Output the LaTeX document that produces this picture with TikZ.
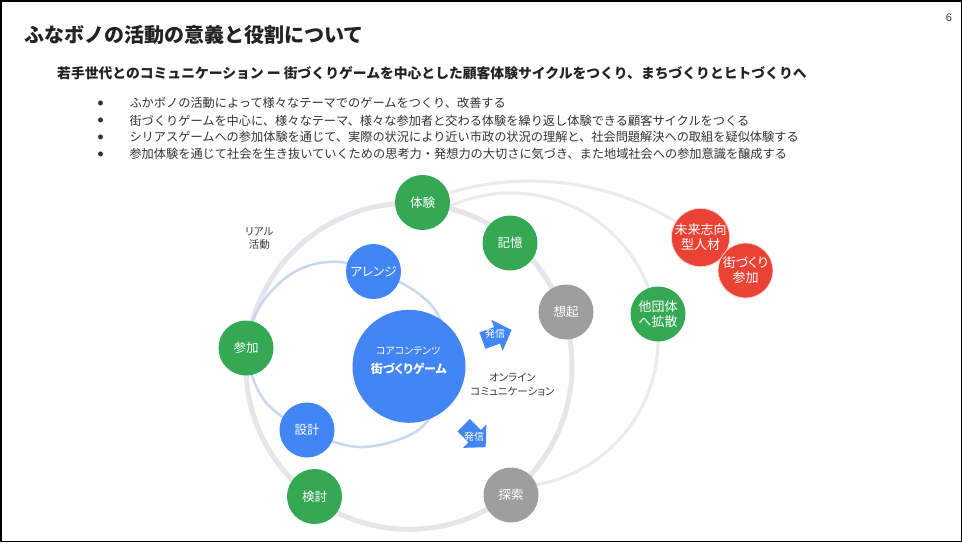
\documentclass[tikz,border=0pt]{standalone}
\usepackage{fontspec}
\setmainfont{Noto Sans CJK JP}
\newfontfamily\jpp{Noto Sans CJK JP}[RawFeature=+palt]
\newfontfamily\numfont{Liberation Sans}
\usetikzlibrary{calc,backgrounds}
\pgfdeclarelayer{paper}
\pgfsetlayers{paper,background,main}
\definecolor{ggreen}{HTML}{34A853}
\definecolor{gblue}{HTML}{4285F4}
\definecolor{ggray}{HTML}{9E9E9E}
\definecolor{gred}{HTML}{EA4335}
\definecolor{ringgray}{HTML}{E4E6EA}
\definecolor{arcgray}{HTML}{EBEBEB}
\definecolor{ringblue}{HTML}{C9D8F0}
\definecolor{txtdark}{HTML}{222222}
\definecolor{txtmid}{HTML}{333333}
\definecolor{lblgray}{HTML}{3A3A3A}
\tikzset{
  circnode/.style={circle, minimum size=55pt, inner sep=0pt, text=white, align=center, font=\jpp\fontsize{12.5}{14}\selectfont},
  twoline/.style={font=\jpp\fontsize{13}{15}\selectfont},
  gnode/.style={circnode, fill=ggreen},
  bnode/.style={circnode, fill=gblue},
  grnode/.style={circnode, fill=ggray},
  rnode/.style={circnode, twoline, fill=gred, draw=white!75!gred, line width=0.8pt},
  bigring/.style={draw=ringgray, line width=5pt},
  outarc/.style={draw=arcgray, line width=3pt},
  innerring/.style={draw=ringblue, line width=2.5pt},
  plaintext/.style={inner sep=0pt, anchor=west},
  bullettext/.style={plaintext, text=txtmid, font=\fontsize{12.2}{14}\selectfont},
  bulletdot/.style={inner sep=0pt, text=txtmid, font=\fontsize{5.5}{6}\selectfont},
  sidelabel/.style={inner sep=0pt, align=center, text=lblgray, font=\jpp\fontsize{10.5}{12.5}\selectfont},
  hasstext/.style={inner sep=0pt, text=white, font=\jpp\fontsize{10}{12}\selectfont},
  hasshinarrow/.pic={\fill[gblue] (-15.5,-8.75) -- (0,-8.75) -- (0,-16.5) -- (15.5,0) -- (0,16.5) -- (0,8.75) -- (-15.5,8.75) -- cycle;}
}
\begin{document}
\begin{tikzpicture}[x=1pt,y=1pt]
\useasboundingbox (0,0) rectangle (962,-542);
\begin{pgfonlayer}{paper}
\fill[white] (0,0) rectangle (962,-542);
\draw[black, line width=1.5pt] (0.75,-0.75) rectangle (961.25,-541.25);
\end{pgfonlayer}

% header texts
\node[plaintext, text=txtdark, font=\bfseries\fontsize{20}{24}\selectfont] (title) at (24,-35) {ふなボノの活動の意義と役割について};
\node[plaintext, text=txtdark, font=\bfseries\fontsize{13.8}{16}\selectfont] (subtitle) at (57,-73.3) {若手世代とのコミュニケーション ー 街づくりゲームを中心とした顧客体験サイクルをつくり、まちづくりとヒトづくりへ};
\node[inner sep=0pt, text=lblgray, font=\numfont\fontsize{11}{13}\selectfont] (pagenum) at (949,-17.5) {6};

\node[bulletdot] (d1) at (100.7,-103.3) {●};
\node[bulletdot] (d2) at (100.7,-120.7) {●};
\node[bulletdot] (d3) at (100.7,-137.3) {●};
\node[bulletdot] (d4) at (100.7,-154) {●};
\node[bullettext] (b1) at (129.3,-103.3) {ふかボノの活動によって様々なテーマでのゲームをつくり、改善する};
\node[bullettext] (b2) at (129.3,-120.7) {街づくりゲームを中心に、様々なテーマ、様々な参加者と交わる体験を繰り返し体験できる顧客サイクルをつくる};
\node[bullettext] (b3) at (129.3,-137.3) {シリアスゲームへの参加体験を通じて、実際の状況により近い市政の状況の理解と、社会問題解決への取組を疑似体験する};
\node[bullettext] (b4) at (129.3,-154) {参加体験を通じて社会を生き抜いていくための思考力・発想力の大切さに気づき、また地域社会への参加意識を醸成する};

% core
\node[circle, fill=gblue, minimum size=113pt, inner sep=0pt] (core) at (409,-366.3) {};
\node[inner sep=0pt, text=white, font=\jpp\fontsize{10}{12}\selectfont] (coretop) at (408.2,-350.5) {コアコンテンツ};
\node[inner sep=0pt, text=white, font=\jpp\bfseries\fontsize{12}{14}\selectfont] (corebot) at (408.8,-369) {街づくりゲーム};

% circles
\node[gnode] (taiken) at (422.5,-202.5) {体験};
\node[gnode] (kioku) at (510,-243) {記憶};
\node[grnode] (souki) at (566,-312) {想起};
\node[gnode] (sanka) at (246,-348) {参加};
\node[bnode] (arrange) at (373.5,-271.5) {アレンジ};
\node[bnode] (sekkei) at (307,-430) {設計};
\node[gnode] (kentou) at (314.5,-496.5) {検討};
\node[grnode] (tansaku) at (511,-495) {探索};
\node[gnode, twoline] (tadantai) at (658,-314) {他団体\\へ拡散};
\node[rnode] (mirai) at (700.5,-237.5) {未来志向\\型人材};
\node[rnode] (machisanka) at (745.5,-270.5) {街づくり\\参加};

% labels
\node[sidelabel] (real) at (259.3,-238.7) {リアル\\活動};
\node[sidelabel, font=\jpp\fontsize{10.5}{13.7}\selectfont] (online) at (512.5,-385) {オンライン\\コミュニケーション};

% arrows
\pic[rotate=20] at (497,-335.3) {hasshinarrow};
\node[hasstext] (hs1) at (495,-334) {発信};
\pic[rotate=-45] at (474.7,-436.2) {hasshinarrow};
\node[hasstext] (hs2) at (474,-437) {発信};

% rings
\begin{pgfonlayer}{background}
\draw[bigring] (core.center) circle[radius=163];
\coordinate (c2) at (511,-340);
\draw[outarc] (taiken.center) arc[start angle=112.6, end angle=52.7, radius=280.5];
\draw[outarc] ($(c2)+(122.8:147)$) arc[start angle=122.8, end angle=-90, radius=147];
\draw[innerring] plot[smooth cycle, tension=0.55] coordinates {(340,-262) (398,-281) (437,-313) (449,-370) (422,-427) (363,-447) (307,-431) (264,-400) (246,-348) (262,-303) (296,-271)};
\end{pgfonlayer}
\end{tikzpicture}
\end{document}
